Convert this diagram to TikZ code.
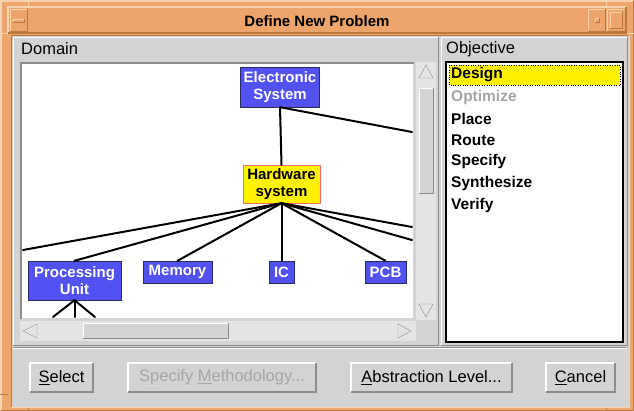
\documentclass[tikz,border=0pt]{standalone}
\usepackage{fontspec}
\setmainfont{Liberation Sans}
\usepackage{xcolor}
\usetikzlibrary{positioning}
\definecolor{frame}{HTML}{EDA56C}
\definecolor{framelt}{HTML}{F8D3B0}
\definecolor{framedk}{HTML}{B9793F}
\definecolor{panel}{HTML}{D3D3D3}
\definecolor{trough}{HTML}{E4E4E4}
\definecolor{edgegray}{HTML}{8C8C8C}
\definecolor{nodeblue}{HTML}{5252F2}
\definecolor{nodeedge}{HTML}{2C2C5A}
\definecolor{selred}{HTML}{F06A6A}
\definecolor{dimtext}{HTML}{A6A6A6}
% raised edge: top-left light, bottom-right dark
\newcommand{\bevel}[6]{%
  \draw[#5] (#1,#4) |- (#3,#2);
  \draw[#6] (#1,#4) -| (#3,#2);}

\begin{document}
\begin{tikzpicture}[x=1pt, y=-1pt,
  blk/.style={draw=nodeedge, fill=nodeblue, text=white, align=center, inner sep=0pt,
              font=\bfseries\fontsize{15}{17}\selectfont},
  sel/.style={blk, draw=selred, fill=yellow, text=black},
  wire/.style={line width=2pt, line cap=round},
  lbl/.style={anchor=west, inner sep=0pt, font=\fontsize{16.5}{18}\selectfont},
  item/.style={anchor=west, inner sep=0pt, font=\bfseries\fontsize{15.5}{17}\selectfont},
  btn/.style={fill=panel, inner sep=0pt, minimum height=29pt, font=\fontsize{16.5}{18}\selectfont}
]
\useasboundingbox (0,0) rectangle (634,411);

% window frame and title bar
\fill[frame] (0,0) rectangle (634,411);
\bevel{1}{1}{633}{410}{framelt, line width=2pt}{framedk, line width=1pt}
\draw[framelt] (28,0) -- (28,7) (606,0) -- (606,7) (0,33) -- (8,33) (626,33) -- (634,33);
\draw[framedk] (0,394) -- (8,394) (28,404) -- (28,411) (606,404) -- (606,411);
\bevel{8}{7}{626}{33}{framelt, line width=1.2pt}{framedk, line width=1.2pt}
\bevel{10}{9}{27}{31}{framelt}{framedk}
\fill[frame] (13,19) rectangle (24,22);
\bevel{13}{19}{24}{22}{framelt}{framedk}
\bevel{588}{9}{605}{31}{framelt}{framedk}
\bevel{595}{18}{599}{22}{framelt}{framedk}
\bevel{607}{9}{625}{31}{framelt}{framedk}
\bevel{610}{12}{622}{28}{framelt}{framedk}
\node[font=\bfseries\fontsize{15}{17}\selectfont] (title) at (317,21) {Define New Problem};

% dialog body
\fill[panel] (11,35) rectangle (629,407);
\bevel{11}{35}{629}{407}{framedk}{framelt}
\bevel{13}{37}{438}{345}{white}{edgegray}
\bevel{441}{37}{627}{345}{white}{edgegray}
\draw[edgegray] (13,347) -- (627,347);
\draw[white] (13,348) -- (627,348);
\node[lbl] (domain) at (21,49) {Domain};
\node[lbl] (objective) at (446,49) {Objective};

% domain canvas with scroll bars
\fill[white] (22,64) rectangle (413,318);
\draw[edgegray, line width=1.5pt] (21,319) |- (414,63);
\fill[trough] (416,62) rectangle (436,320);
\fill[panel] (419,88) rectangle (433,193);
\bevel{419}{88}{433}{193}{white}{edgegray}
\draw[edgegray, fill=trough] (426,65) -- (419,78) -- (433,78) -- cycle;
\draw[edgegray, fill=trough] (419,304) -- (433,304) -- (426,317) -- cycle;
\fill[trough] (20,321) rectangle (416,341);
\fill[panel] (83,323) rectangle (228,338);
\bevel{83}{323}{228}{338}{white}{edgegray}
\draw[edgegray, fill=trough] (23,331) -- (37,324) -- (37,338) -- cycle;
\draw[edgegray, fill=trough] (411,331) -- (398,324) -- (398,338) -- cycle;

% tree
\node[blk, minimum width=79pt, minimum height=40pt] (es) at (280,87) {Electronic\\System};
\node[sel, minimum width=77pt, minimum height=38pt] (hw) at (281.5,184) {Hardware\\system};
\node[blk, minimum width=93pt, minimum height=39pt] (pu) at (74.5,280.5) {Processing\\Unit};
\node[blk, minimum width=69pt, minimum height=22pt] (mem) at (177.5,272) {Memory};
\node[blk, minimum width=25pt, minimum height=22pt] (ic) at (281.5,272) {IC};
\node[blk, minimum width=41pt, minimum height=22pt] (pcb) at (385.5,272) {PCB};
\coordinate (esR) at (412,132);
\coordinate (hwL) at (23,250);
\coordinate (hwR1) at (412,227);
\coordinate (hwR2) at (412,240);
\coordinate (puL) at (53,317);
\coordinate (puM) at (74.5,317);
\coordinate (puR) at (95,317);

\draw[wire] (es.south) -- (hw.north);
\draw[wire] (es.south) -- (esR);
\foreach \t in {hwL,pu.north,mem.north,ic.north,pcb.north,hwR1,hwR2}
  \draw[wire] (hw.south) -- (\t);
\foreach \t in {puL,puM,puR}
  \draw[wire] (pu.south) -- (\t);

% objective list
\draw[line width=1.5pt, fill=white] (446,62) rectangle (623,342);
\draw[dotted, fill=yellow] (449,65) rectangle (620,85);
\node[item] (design) at (451,75) {Design};
\node[item, text=dimtext] (optimize) at (451,97) {Optimize};
\foreach \w [count=\i from 0] in {Place,Route,Specify,Synthesize,Verify}
  \node[item] (obj\i) at (451,{118.5+21.7*\i}) {\w};

% buttons
\node[btn, minimum width=63pt] (bsel) at (61.5,377.5) {\underline{S}elect};
\node[btn, minimum width=188pt, text=dimtext] (bmeth) at (222,377.5) {Specify \underline{M}ethodology...};
\node[btn, minimum width=161pt] (babs) at (431.5,377.5) {\underline{A}bstraction Level...};
\node[btn, minimum width=69pt] (bcan) at (580.5,377.5) {\underline{C}ancel};
\foreach \b in {bsel,bmeth,babs,bcan} {
  \draw[white, line width=1.5pt] (\b.south west) |- (\b.north east);
  \draw[edgegray, line width=1.5pt] (\b.south west) -| (\b.north east);
}
\end{tikzpicture}
\end{document}
